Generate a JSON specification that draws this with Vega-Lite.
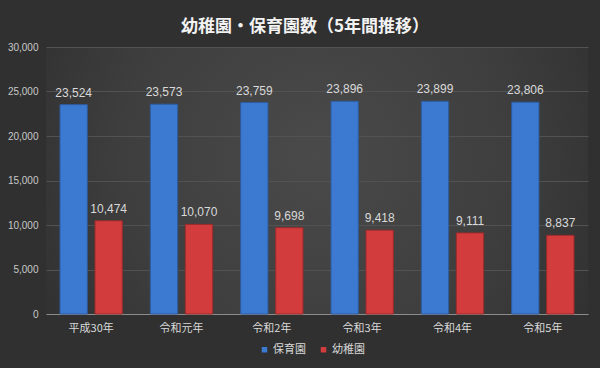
{
  "$schema": "https://vega.github.io/schema/vega-lite/v6.json",
  "width": 542,
  "height": 267,
  "autosize": {"type": "none"},
  "padding": {"left": 46, "top": 47, "right": 12, "bottom": 54},
  "background": "#303030",
  "config": {
    "view": {
      "stroke": null,
      "fill": {
        "gradient": "radial",
        "x1": 0.5, "y1": 0.45, "r1": 0,
        "x2": 0.5, "y2": 0.45, "r2": 0.6,
        "stops": [
          {"offset": 0, "color": "#4a4a4a"},
          {"offset": 0.6, "color": "#3e3e3e"},
          {"offset": 1, "color": "#303030"}
        ]
      }
    }
  },
  "title": {
    "text": "幼稚園・保育園数（5年間推移）",
    "font": "Noto Sans CJK JP",
    "fontSize": 17,
    "fontWeight": "bold",
    "color": "#f2f2f2",
    "anchor": "middle",
    "dx": -12,
    "offset": 6
  },
  "data": {
    "values": [
      {"year": "平成30年", "type": "保育園", "count": 23524},
      {"year": "平成30年", "type": "幼稚園", "count": 10474},
      {"year": "令和元年", "type": "保育園", "count": 23573},
      {"year": "令和元年", "type": "幼稚園", "count": 10070},
      {"year": "令和2年", "type": "保育園", "count": 23759},
      {"year": "令和2年", "type": "幼稚園", "count": 9698},
      {"year": "令和3年", "type": "保育園", "count": 23896},
      {"year": "令和3年", "type": "幼稚園", "count": 9418},
      {"year": "令和4年", "type": "保育園", "count": 23899},
      {"year": "令和4年", "type": "幼稚園", "count": 9111},
      {"year": "令和5年", "type": "保育園", "count": 23806},
      {"year": "令和5年", "type": "幼稚園", "count": 8837}
    ]
  },
  "encoding": {
    "x": {
      "field": "year",
      "type": "nominal",
      "sort": null,
      "scale": {"paddingInner": 0.31, "paddingOuter": 0.155},
      "axis": {
        "title": null,
        "labelAngle": 0,
        "ticks": false,
        "labelPadding": 8,
        "labelFont": "Noto Sans CJK JP",
        "labelFontSize": 11,
        "labelColor": "#d9d9d9",
        "domainColor": "#8c8c8c",
        "domainWidth": 1,
        "grid": false
      }
    },
    "xOffset": {
      "field": "type",
      "type": "nominal",
      "sort": ["保育園", "幼稚園"],
      "scale": {"paddingInner": 0.22, "paddingOuter": 0}
    },
    "y": {
      "field": "count",
      "type": "quantitative",
      "scale": {"domain": [0, 30000], "nice": false},
      "axis": {
        "title": null,
        "values": [0, 5000, 10000, 15000, 20000, 25000, 30000],
        "format": ",d",
        "ticks": false,
        "domain": false,
        "labelPadding": 8,
        "labelFont": "Liberation Sans",
        "labelFontSize": 10,
        "labelColor": "#c8c8c8",
        "gridColor": "#525252",
        "gridWidth": 1
      }
    }
  },
  "layer": [
    {
      "mark": {"type": "bar", "strokeWidth": 1},
      "encoding": {
        "color": {
          "field": "type",
          "type": "nominal",
          "sort": ["保育園", "幼稚園"],
          "scale": {"domain": ["保育園", "幼稚園"], "range": ["#3c79d1", "#d23c3c"]},
          "legend": {
            "title": null,
            "orient": "none",
            "direction": "horizontal",
            "legendX": 213,
            "legendY": 297,
            "symbolType": "square",
            "symbolSize": 30,
            "symbolStrokeWidth": 0,
            "labelFont": "Noto Sans CJK JP",
            "labelFontSize": 11,
            "labelColor": "#d9d9d9",
            "columnPadding": 12,
            "labelOffset": 3
          }
        },
        "stroke": {
          "field": "type",
          "type": "nominal",
          "scale": {"domain": ["保育園", "幼稚園"], "range": ["#2c5c9e", "#9c2b2b"]},
          "legend": null
        }
      }
    },
    {
      "mark": {
        "type": "text",
        "baseline": "bottom",
        "dy": -5,
        "font": "Liberation Sans",
        "fontSize": 12,
        "color": "#d9d9d9"
      },
      "encoding": {
        "text": {"field": "count", "type": "quantitative", "format": ",d"}
      }
    }
  ]
}
